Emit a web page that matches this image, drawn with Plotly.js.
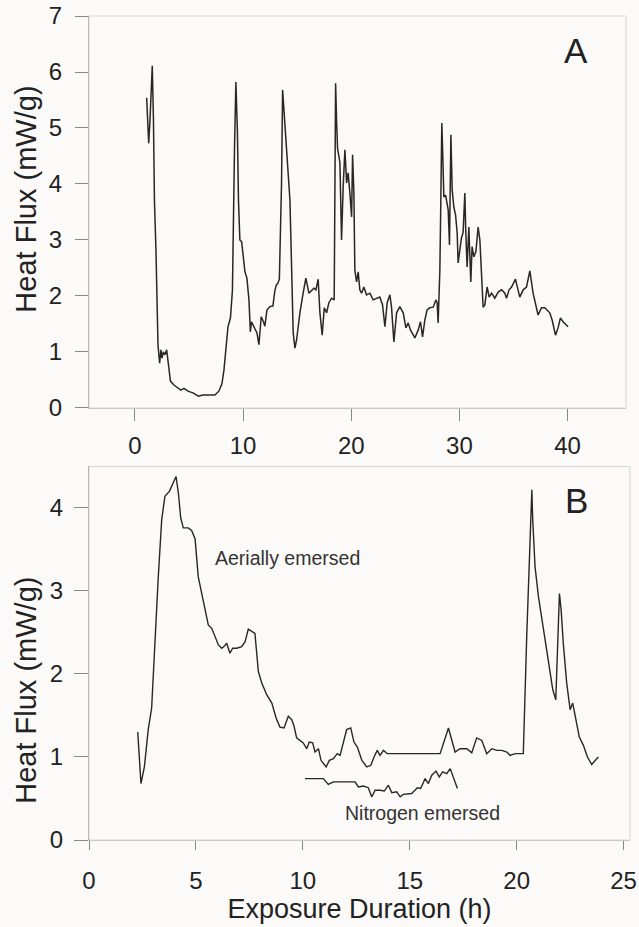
<!DOCTYPE html>
<html>
<head>
<meta charset="utf-8">
<script src="https://cdn.plot.ly/plotly-3.0.1.min.js"></script>
<style>html,body{margin:0;padding:0;background:#fcfaf8;}#chart{width:639px;height:927px;}</style>
</head>
<body>
<div id="chart"></div>
<script>
// Panel A: heat flux vs exposure duration (h)
const aHours = [1.08,1.27,1.39,1.60,1.71,1.80,1.94,2.06,2.13,2.28,2.40,2.50,2.62,2.77,2.93,3.10,3.28,3.60,3.97,4.25,4.53,4.90,5.36,5.87,6.28,6.93,7.39,7.76,8.04,8.23,8.41,8.60,8.83,9.01,9.20,9.33,9.47,9.57,9.70,9.86,10.17,10.35,10.54,10.67,10.77,11.09,11.28,11.46,11.67,11.88,12.01,12.20,12.48,12.75,12.94,13.08,13.20,13.35,13.55,13.65,13.80,14.08,14.33,14.63,14.79,14.94,15.25,15.55,15.80,16.08,16.33,16.54,16.73,16.94,17.10,17.31,17.50,17.72,17.93,18.18,18.42,18.55,18.64,18.73,18.95,19.10,19.25,19.41,19.57,19.71,19.87,20.03,20.12,20.24,20.33,20.49,20.64,20.79,20.95,21.16,21.41,21.72,22.02,22.34,22.64,22.89,23.11,23.32,23.57,23.72,23.94,24.19,24.49,24.80,25.05,25.26,25.48,25.88,26.18,26.40,26.59,26.80,27.01,27.26,27.57,27.82,27.94,28.03,28.19,28.28,28.37,28.47,28.56,28.72,28.81,28.96,29.08,29.21,29.33,29.48,29.64,29.79,29.88,30.04,30.19,30.34,30.50,30.59,30.71,30.87,30.96,31.05,31.17,31.33,31.52,31.73,31.89,32.04,32.19,32.35,32.56,32.75,32.97,33.27,33.58,33.89,34.20,34.35,34.59,34.82,35.18,35.58,35.89,36.20,36.51,36.81,37.27,37.59,37.89,38.35,38.57,38.88,39.12,39.34,39.58,40.05];
const aFlux = [5.54,4.73,5.14,6.11,5.14,3.71,2.82,1.39,1.12,0.80,1.04,0.89,1.00,0.95,1.04,0.77,0.48,0.41,0.36,0.32,0.35,0.30,0.27,0.21,0.23,0.23,0.23,0.30,0.43,0.68,1.04,1.45,1.61,2.10,4.60,5.82,4.96,3.71,3.00,2.97,2.43,2.32,1.93,1.36,1.54,1.43,1.34,1.13,1.63,1.54,1.46,1.75,1.81,1.82,2.10,2.20,2.22,2.30,4.00,5.68,5.20,4.37,3.71,1.34,1.07,1.21,1.70,2.05,2.32,2.05,2.11,2.14,2.11,2.30,1.70,1.30,1.79,1.70,1.88,1.96,1.93,5.80,5.14,4.64,4.38,3.00,3.95,4.61,4.02,4.20,3.84,3.41,4.52,3.84,2.46,2.25,2.43,2.11,2.05,2.16,2.02,2.05,1.93,1.95,1.98,1.84,1.45,1.88,2.02,1.80,1.18,1.70,1.81,1.70,1.43,1.52,1.39,1.25,1.39,1.54,1.27,1.57,1.75,1.79,1.80,1.93,1.88,1.52,2.46,3.71,5.09,4.43,3.77,3.80,3.71,3.54,2.91,4.88,3.89,3.59,3.45,3.13,2.59,2.82,3.04,3.13,3.84,3.13,2.52,3.23,2.70,2.25,2.88,2.70,2.79,3.23,3.00,2.41,1.80,1.84,2.16,1.98,2.05,1.96,2.07,2.11,2.05,1.96,2.11,2.16,2.30,1.98,2.11,2.16,2.45,2.05,1.66,1.79,1.79,1.70,1.57,1.30,1.43,1.61,1.54,1.45];

// Panel B: aerially emersed
const bAirHours = [2.28,2.43,2.59,2.77,2.93,3.09,3.24,3.40,3.55,3.76,3.94,4.07,4.18,4.29,4.41,4.64,4.80,4.96,5.11,5.27,5.43,5.58,5.74,5.89,6.05,6.21,6.31,6.44,6.59,6.72,6.91,7.14,7.30,7.45,7.61,7.76,7.92,8.08,8.31,8.55,8.75,8.93,9.12,9.32,9.48,9.59,9.71,9.87,10.02,10.18,10.30,10.46,10.57,10.73,10.85,11.09,11.24,11.43,11.61,11.74,11.89,12.05,12.24,12.39,12.55,12.76,12.99,13.18,13.33,13.48,13.61,13.77,13.95,16.42,16.81,17.12,17.35,17.67,17.90,18.13,18.37,18.60,18.84,19.07,19.30,19.54,19.69,19.93,20.16,20.31,20.47,20.63,20.71,20.75,20.86,21.02,21.25,21.48,21.69,21.83,21.90,22.00,22.08,22.18,22.34,22.50,22.62,22.78,22.93,23.12,23.31,23.51,23.67,23.82];
const bAirFlux = [1.30,0.68,0.88,1.33,1.59,2.45,3.17,3.86,4.14,4.20,4.30,4.38,4.18,3.88,3.76,3.76,3.73,3.63,3.17,2.97,2.77,2.59,2.55,2.45,2.35,2.31,2.33,2.37,2.25,2.31,2.31,2.33,2.39,2.54,2.51,2.49,2.03,1.89,1.75,1.65,1.47,1.36,1.35,1.49,1.45,1.37,1.23,1.20,1.17,1.10,1.18,1.17,1.06,1.10,0.96,0.88,0.96,0.98,1.04,1.02,1.18,1.33,1.35,1.18,1.12,0.96,0.88,0.90,1.00,1.08,1.02,1.08,1.04,1.04,1.35,1.06,1.10,1.10,1.05,1.23,1.20,1.04,1.10,1.08,1.08,1.06,1.02,1.04,1.04,1.04,2.45,3.65,4.22,3.86,3.29,2.93,2.53,2.13,1.81,1.69,2.21,2.97,2.77,2.37,1.89,1.57,1.65,1.45,1.24,1.14,1.00,0.91,0.96,1.00];

// Panel B: nitrogen emersed
const bN2Hours = [10.10,10.96,11.19,11.43,12.44,12.60,12.83,13.06,13.22,13.38,13.61,13.81,14.00,14.16,14.39,14.55,14.70,15.09,15.36,15.51,15.72,15.87,16.03,16.23,16.38,16.54,16.73,16.89,17.23];
const bN2Flux = [0.74,0.74,0.67,0.70,0.70,0.64,0.65,0.63,0.52,0.60,0.60,0.59,0.66,0.57,0.58,0.52,0.55,0.56,0.63,0.62,0.74,0.68,0.78,0.83,0.76,0.82,0.80,0.86,0.62];

const aXTicks = [0,10,20,30,40];
const aYTicks = [0,1,2,3,4,5,6,7];
const bXTicks = [0,5,10,15,20,25];
const bYTicks = [0,1,2,3,4];

const FONT = 'Liberation Sans, Arial, Helvetica, sans-serif';
const INK = '#2a2527';
const BG = '#fcfaf8';

const traces = [
  {x: aHours, y: aFlux, xaxis: 'x', yaxis: 'y', type: 'scatter', mode: 'lines',
   line: {color: INK, width: 1.5}, name: 'A', showlegend: false},
  {x: bAirHours, y: bAirFlux, xaxis: 'x2', yaxis: 'y2', type: 'scatter', mode: 'lines',
   line: {color: INK, width: 1.4}, name: 'Aerially emersed', showlegend: false},
  {x: bN2Hours, y: bN2Flux, xaxis: 'x2', yaxis: 'y2', type: 'scatter', mode: 'lines',
   line: {color: INK, width: 1.4}, name: 'Nitrogen emersed', showlegend: false}
];

const tickFont = {family: FONT, size: 24, color: '#222'};

const layout = {
  width: 639, height: 927,
  margin: {l: 89, r: 9, t: 16, b: 87},
  paper_bgcolor: BG, plot_bgcolor: BG,
  font: {family: FONT, color: '#222'},
  showlegend: false,
  xaxis: {domain: [0, 0.9926], anchor: 'y', range: [-4.25, 45.4],
    tickmode: 'array', tickvals: aXTicks, ticks: 'outside', ticklen: 12, tickcolor: '#888',
    showline: true, linecolor: '#bbb', linewidth: 1, showgrid: false, zeroline: false,
    tickfont: tickFont, ticklabelstandoff: 4},
  yaxis: {domain: [0.5243, 1], anchor: 'x', range: [0, 7],
    tickmode: 'array', tickvals: aYTicks, ticks: 'outside', ticklen: 13, tickcolor: '#888',
    showline: true, linecolor: '#999', linewidth: 1, showgrid: false, zeroline: false,
    tickfont: tickFont, ticklabelstandoff: 8},
  xaxis2: {domain: [0, 1], anchor: 'y2', range: [0, 25.3],
    tickmode: 'array', tickvals: bXTicks, ticks: 'outside', ticklen: 9, tickcolor: '#888',
    showline: true, linecolor: '#bbb', linewidth: 1, showgrid: false, zeroline: false,
    tickfont: tickFont, ticklabelstandoff: 10,
    title: {text: 'Exposure Duration (h)', font: {family: FONT, size: 27, color: '#222'}, standoff: 5}},
  yaxis2: {domain: [0, 0.4533], anchor: 'x2', range: [0, 4.5],
    tickmode: 'array', tickvals: bYTicks, ticks: 'outside', ticklen: 14, tickcolor: '#888',
    showline: true, linecolor: '#999', linewidth: 1, showgrid: false, zeroline: false,
    tickfont: tickFont, ticklabelstandoff: 6},
  shapes: [
    {type: 'rect', xref: 'x domain', yref: 'y domain', x0: 0, x1: 1, y0: 0, y1: 1,
     line: {color: '#d8d6d4', width: 1}},
    {type: 'rect', xref: 'x2 domain', yref: 'y2 domain', x0: 0, x1: 1, y0: 0, y1: 1,
     line: {color: '#d8d6d4', width: 1}}
  ],
  annotations: [
    {text: 'A', xref: 'x domain', yref: 'y domain', x: 0.906, y: 0.912, showarrow: false,
     xanchor: 'center', yanchor: 'middle', font: {family: FONT, size: 35, color: '#222'}},
    {text: 'B', xref: 'x2 domain', yref: 'y2 domain', x: 0.902, y: 0.91, showarrow: false,
     xanchor: 'center', yanchor: 'middle', font: {family: FONT, size: 35, color: '#222'}},
    {text: 'Aerially emersed', xref: 'x2', yref: 'y2', x: 5.8, y: 3.4, showarrow: false,
     xanchor: 'left', yanchor: 'middle', font: {family: FONT, size: 19.5, color: '#333'}},
    {text: 'Nitrogen emersed', xref: 'x2', yref: 'y2', x: 11.9, y: 0.32, showarrow: false,
     xanchor: 'left', yanchor: 'middle', font: {family: FONT, size: 19.5, color: '#333'}},
    {text: 'Heat Flux (mW/g)', xref: 'paper', yref: 'paper', x: -0.117, y: 0.778, textangle: -90,
     showarrow: false, xanchor: 'center', yanchor: 'middle', font: {family: FONT, size: 29, color: '#222'}},
    {text: 'Heat Flux (mW/g)', xref: 'paper', yref: 'paper', x: -0.117, y: 0.182, textangle: -90,
     showarrow: false, xanchor: 'center', yanchor: 'middle', font: {family: FONT, size: 29, color: '#222'}}
  ]
};

Plotly.newPlot('chart', traces, layout, {displayModeBar: false, staticPlot: true});
</script>
</body>
</html>
